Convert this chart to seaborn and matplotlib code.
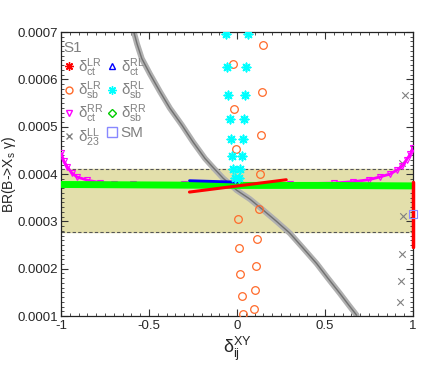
import numpy as np
import pandas as pd
import matplotlib
matplotlib.use("Agg")
import matplotlib.pyplot as plt
from matplotlib.lines import Line2D
from matplotlib.ticker import MultipleLocator, FuncFormatter
import seaborn as sns

# --- data ---
band_lo, band_hi = 0.000277, 0.000411

ll23_x = [-0.589, -0.568, -0.541, -0.494, -0.4375, -0.381, -0.314, -0.25, -0.182, -0.131,
          -0.078, -0.040, -0.002, 0.074, 0.149, 0.222, 0.301, 0.375, 0.453, 0.517, 0.585,
          0.636, 0.680]
ll23_y = [0.000704, 0.000675, 0.000644, 0.000611, 0.000574, 0.000539, 0.000504, 0.000468,
          0.000433, 0.000412, 0.000391, 0.000379, 0.000366, 0.000347, 0.000324, 0.000301,
          0.000275, 0.000244, 0.000211, 0.000180, 0.000148, 0.000123, 0.000102]

ll23_pts_x = [0.955, 0.940, 0.941, 0.936, 0.930, 0.926]
ll23_pts_y = [0.000567, 0.000423, 0.000311, 0.000232, 0.000175, 0.000130]

ctRR_x = [-0.998, -0.985, -0.964, -0.94, -0.91, -0.85, -0.778, -0.7, -0.59, -0.3, 0.0, 0.3,
          0.55, 0.661, 0.75, 0.8125, 0.87, 0.907, 0.94, 0.964, 0.985, 0.998]
ctRR_y = [0.000444, 0.000428, 0.000415, 0.000403, 0.000394, 0.000387, 0.000382, 0.000380,
          0.000379, 0.000378, 0.000378, 0.000379, 0.000381, 0.000384, 0.000388, 0.000394,
          0.000400, 0.000408, 0.000417, 0.000430, 0.000442, 0.000454]

sbRR_x = [-1.0, -0.5, 0.0, 0.5, 1.0]
sbRR_y = [0.000378, 0.000377, 0.000376, 0.000376, 0.000375]

ctLR_x = [-0.27, 0.28]
ctLR_y = [0.000362, 0.000388]
ctLR_edge_x = [1.0, 1.0]
ctLR_edge_y = [0.000247, 0.000384]

ctRL_x = [-0.27, 0.0]
ctRL_y = [0.000386, 0.000383]

sbLR_x = [0.149, -0.024, 0.142, -0.015, 0.135, -0.007, 0.129, 0.123, 0.006, 0.115, 0.011,
          0.108, 0.019, 0.101, 0.027, 0.095, 0.032]
sbLR_y = [0.000673, 0.000632, 0.000574, 0.000537, 0.000483, 0.000452, 0.000401, 0.000327,
          0.000305, 0.000262, 0.000244, 0.000205, 0.000188, 0.000156, 0.000142, 0.000115,
          0.000104]

sbRL_x = [-0.064, 0.060, -0.057, 0.053, -0.049, 0.045, -0.041, 0.040, -0.036, 0.033,
          -0.028, 0.027, -0.023, 0.019, -0.011, 0.010]
sbRL_y = [0.000695, 0.000695, 0.000627, 0.000627, 0.000567, 0.000567, 0.000517, 0.000517,
          0.000473, 0.000473, 0.000438, 0.000438, 0.000411, 0.000411, 0.000391, 0.000391]

sm_x = [1.0]
sm_y = [0.000315]

sns.set_style("ticks")
plt.rcParams['font.family'] = ['Liberation Sans', 'DejaVu Sans']
plt.rcParams['mathtext.fontset'] = 'custom'
plt.rcParams['mathtext.rm'] = 'Liberation Sans'

fig = plt.figure(figsize=(4.36, 3.68), dpi=100)
ax = fig.add_axes([0.140, 0.141, 0.807, 0.772])

# experimental band
ax.axhspan(band_lo, band_hi, color='#e3dfab', zorder=0)
for yb in (band_lo, band_hi):
    ax.axhline(yb, color='#555555', lw=0.8, ls=(0, (3, 2)), zorder=1)

kw = dict(ax=ax, sort=False, estimator=None, legend=False)
# delta_23^LL thick curve
sns.lineplot(x=ll23_x, y=ll23_y, color='#b0b0b0', lw=4.2, zorder=2,
             solid_joinstyle='round', **kw)
sns.lineplot(x=ll23_x, y=ll23_y, color='#707070', lw=1.0, zorder=2, **kw)
sns.scatterplot(x=ll23_pts_x, y=ll23_pts_y, marker='x', color='#808080', s=22,
                linewidth=0.8, zorder=3, ax=ax, clip_on=False)

# delta_ct^RR
sns.lineplot(x=ctRR_x, y=ctRR_y, color='#ff00ff', lw=2, zorder=3, **kw)
ax.plot(ctRR_x, ctRR_y, ls='none', marker='v', ms=4, mfc='none', mec='#ff00ff', mew=0.8,
        zorder=3)

# delta_sb^RR
sns.lineplot(x=sbRR_x, y=sbRR_y, color='#00ff00', lw=5, zorder=4, **kw)

# delta_ct^LR, delta_ct^RL
sns.lineplot(x=ctLR_x, y=ctLR_y, color='#ff0000', lw=2.2, zorder=5, **kw)
sns.lineplot(x=ctLR_edge_x, y=ctLR_edge_y, color='#ff0000', lw=2.5, zorder=5,
             clip_on=False, **kw)
sns.lineplot(x=ctRL_x, y=ctRL_y, color='#0000ff', lw=2, zorder=4, **kw)

# delta_sb^LR, delta_sb^RL
ax.plot(sbLR_x, sbLR_y, ls='none', marker='o', ms=5.5, mfc='none', mec='#ff6a2a', mew=0.9,
        zorder=6)
sns.scatterplot(x=sbRL_x, y=sbRL_y, marker=(8, 2, 0), color='#00ffff', s=36,
                linewidth=1.2, zorder=6, ax=ax)

# SM
ax.plot(sm_x, sm_y, ls='none', marker='s', ms=6, mfc='none', mec='#8888ff', mew=0.8,
        zorder=7, clip_on=False)

ax.set_xlim(-1, 1)
ax.set_ylim(0.0001, 0.0007)
ax.xaxis.set_major_locator(MultipleLocator(0.5))
ax.xaxis.set_minor_locator(MultipleLocator(0.05))
ax.yaxis.set_major_locator(MultipleLocator(0.0001))
ax.yaxis.set_minor_locator(MultipleLocator(0.00001))
ax.xaxis.set_major_formatter(FuncFormatter(lambda v, p: f"{v:g}"))
ax.yaxis.set_major_formatter(FuncFormatter(lambda v, p: f"{v:.4f}"))
ax.tick_params(which='both', direction='in', top=True, right=True, labelsize=9.5,
               color='#333333')
ax.tick_params(axis='x', pad=3)
ax.tick_params(axis='y', pad=2)
ax.tick_params(which='major', length=5, width=0.8)
ax.tick_params(which='minor', length=2.5, width=0.6)
for sp in ax.spines.values():
    sp.set_color('#222222')
    sp.set_linewidth(0.9)

ax.set_ylabel('BR(B->X$_\\mathregular{s}$ γ)', fontsize=10)
ax.yaxis.set_label_coords(-0.122, 0.5)
ax.set_xlabel('$\\mathregular{δ_{ij}^{XY}}$', fontsize=13, labelpad=2)

gray = '#808080'
handles = [
    Line2D([], [], ls='none', marker=(8, 2, 0), color='#ff0000', ms=6, mew=1),
    Line2D([], [], ls='none', marker='o', mfc='none', mec='#ff6a2a', ms=5),
    Line2D([], [], ls='none', marker='v', mfc='none', mec='#ff00ff', ms=5),
    Line2D([], [], ls='none', marker='x', color=gray, ms=5),
    Line2D([], [], ls='none', marker='^', mfc='none', mec='#0000ff', ms=5),
    Line2D([], [], ls='none', marker=(8, 2, 0), color='#00ffff', ms=6, mew=1),
    Line2D([], [], ls='none', marker='D', mfc='none', mec='#00cc00', ms=4),
    Line2D([], [], ls='none', marker='s', mfc='none', mec='#8888ff', ms=7),
]
labels = ['$\\mathregular{δ_{ct}^{LR}}$', '$\\mathregular{δ_{sb}^{LR}}$',
          '$\\mathregular{δ_{ct}^{RR}}$', '$\\mathregular{δ_{23}^{LL}}$',
          '$\\mathregular{δ_{ct}^{RL}}$', '$\\mathregular{δ_{sb}^{RL}}$',
          '$\\mathregular{δ_{sb}^{RR}}$', 'SM']
leg = ax.legend(handles, labels, ncol=2, loc='upper left', bbox_to_anchor=(-0.02, 1.0),
                frameon=False, fontsize=11, title='S1', title_fontsize=11,
                alignment='left', handlelength=0.8, handletextpad=0.15,
                columnspacing=0.2, labelspacing=0.05, borderaxespad=0.2)
for t in leg.get_texts():
    t.set_color(gray)
leg.get_title().set_color(gray)
leg.set_zorder(10)

fig.savefig('out.png', dpi=100)
